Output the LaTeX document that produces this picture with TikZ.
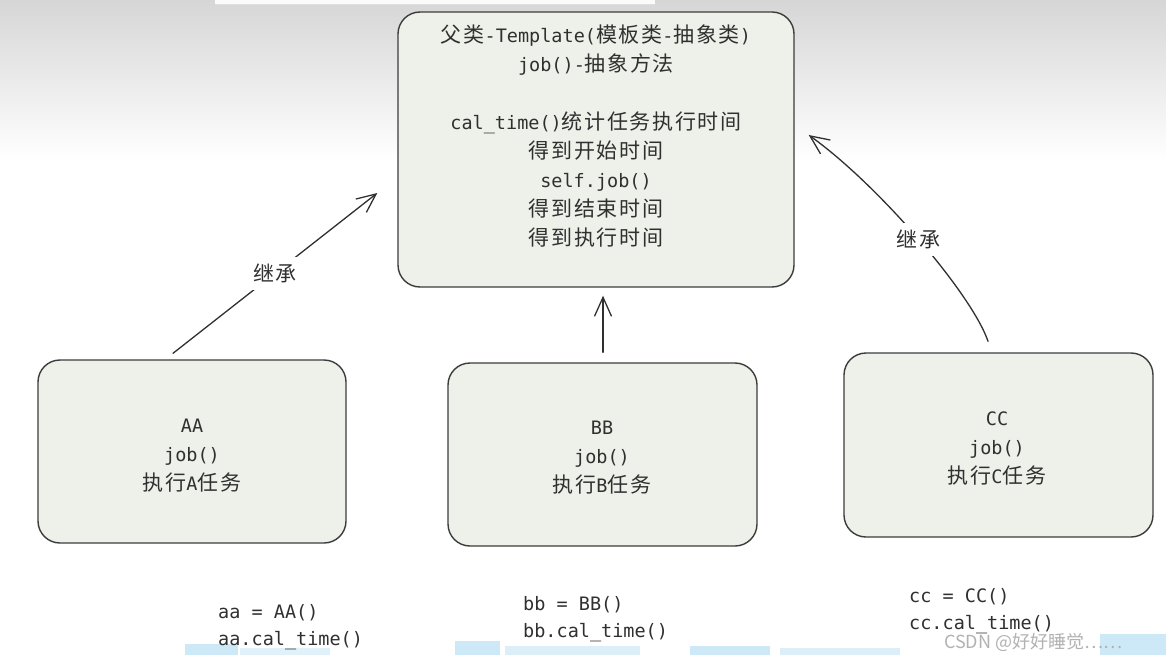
\documentclass[tikz,border=0pt]{standalone}
\usepackage{fontspec}
\setmainfont{DejaVu Sans Mono}
\newfontfamily\cjkfont{Noto Sans CJK SC}[LetterSpace=8]
\newfontfamily\wmfont{Noto Sans CJK SC}
\newcommand{\zh}[1]{{\cjkfont\fontsize{21}{29}\selectfont #1}}
\usetikzlibrary{arrows.meta}
\definecolor{boxfill}{RGB}{238,241,233}
\definecolor{ink}{RGB}{48,48,48}
\definecolor{edge}{RGB}{60,60,60}
\definecolor{bgtop}{RGB}{214,214,214}
\definecolor{stripe}{RGB}{205,232,246}
\tikzset{
  box/.style={draw=edge, line width=1.4pt, fill=boxfill, rounded corners=22pt, inner sep=0pt},
  txt/.style={text=ink, align=center, font=\fontsize{18.5}{29}\selectfont, inner sep=0pt},
  code/.style={text=ink, anchor=west, font=\fontsize{18.5}{29}\selectfont, inner sep=0pt},
  arr/.style={draw=ink, line width=1.3pt, line cap=round, -{Straight Barb[length=19pt,width=17pt,line width=1.3pt]}},
  lbl/.style={fill=white, text=ink, inner sep=7pt}
}
\begin{document}
\begin{tikzpicture}[x=1pt,y=-1pt]
\useasboundingbox (0,0) rectangle (1166,663);
% background
\fill[white] (0,0) rectangle (1166,663);
\shade[top color=bgtop, bottom color=white] (0,0) rectangle (1166,160);
\fill[white!97!gray] (215,-4) rectangle (655,4);
\draw[gray!25, line width=0.6pt] (215,4) -- (655,4);
% bottom stripes (video artefact)
\fill[stripe] (185,644) rectangle (238,655);
\fill[stripe!60] (240,648) rectangle (330,655);
\fill[stripe] (455,641) rectangle (500,655);
\fill[stripe!70] (505,646) rectangle (640,655);
\fill[stripe] (690,646) rectangle (770,655);
\fill[stripe!70] (780,648) rectangle (900,655);
\fill[stripe] (1100,634) rectangle (1166,655);

% boxes
\node[box, minimum width=396pt, minimum height=275pt] (P) at (596,149.5) {};
\node[box, minimum width=308pt, minimum height=183pt] (A) at (192,451.5) {};
\node[box, minimum width=309pt, minimum height=183pt] (B) at (602.5,454.5) {};
\node[box, minimum width=309pt, minimum height=184pt] (C) at (998.5,445) {};

% box texts
\node[txt] (Pt) at (596,136) {\zh{父类}-Template(\zh{模板类}-\zh{抽象类})\\
job()-\zh{抽象方法}\\[29pt]
cal\_time()\zh{统计任务执行时间}\\
\zh{得到开始时间}\\
self.job()\\
\zh{得到结束时间}\\
\zh{得到执行时间}};
\node[txt] (At) at (192,456) {AA\\job()\\\zh{执行}A\zh{任务}};
\node[txt] (Bt) at (602,458) {BB\\job()\\\zh{执行}B\zh{任务}};
\node[txt] (Ct) at (997,449) {CC\\job()\\\zh{执行}C\zh{任务}};

% connectors
\draw[arr] ([xshift=-19pt,yshift=6pt]A.north) -- node[lbl]{\zh{继承}} ([xshift=-20pt,yshift=-43.5pt]P.west);
\draw[arr] ([xshift=0.5pt,yshift=10pt]B.north) -- ([xshift=7pt,yshift=-8pt]P.south);
\draw[arr] ([xshift=-10.5pt,yshift=11pt]C.north) .. controls +(-16,-47) and +(70,50) .. node[lbl,pos=0.5]{\zh{继承}} ([xshift=14pt,yshift=14.5pt]P.east);

% instantiation code
\node[code] (a1) at (218,613) {aa = AA()};
\node[code] (a2) at (218,641) {aa.cal\_time()};
\node[code] (b1) at (523,605) {bb = BB()};
\node[code] (b2) at (523,633) {bb.cal\_time()};
\node[code] (c1) at (909,597) {cc = CC()};
\node[code] (c2) at (909,625) {cc.cal\_time()};

% watermark
\node[anchor=west, inner sep=0pt, text=gray!60, font=\wmfont\fontsize{18}{20}\selectfont] (wm) at (944,642) {CSDN @好好睡觉……};
\end{tikzpicture}
\end{document}
